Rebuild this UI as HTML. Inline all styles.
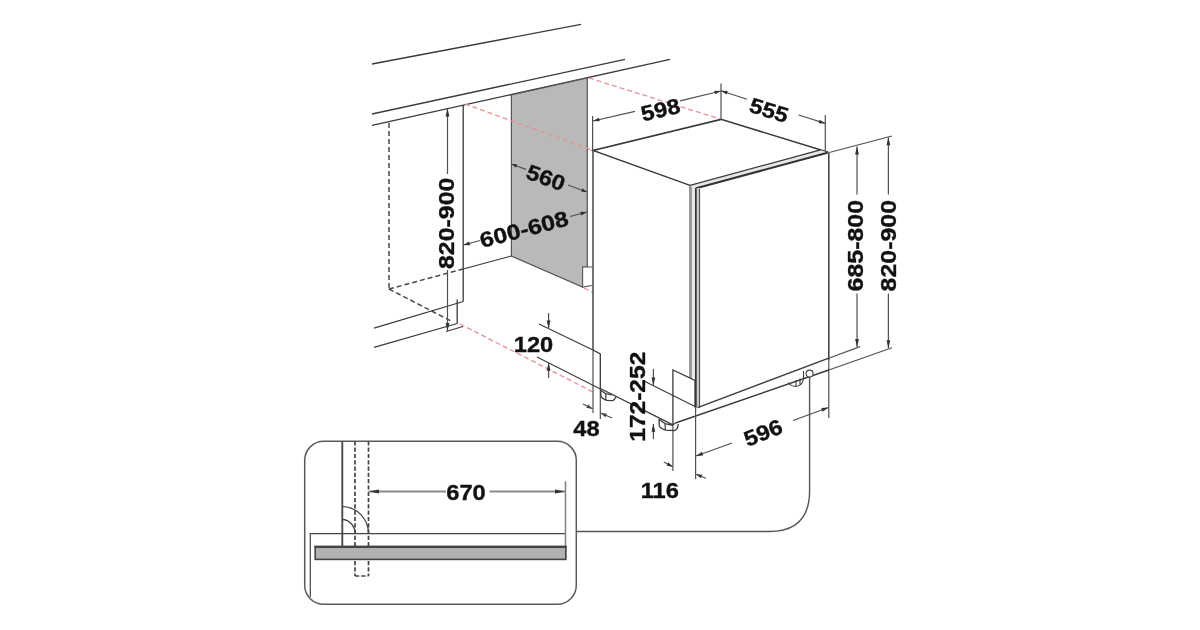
<!DOCTYPE html>
<html><head><meta charset="utf-8"><title>Installation dimensions</title>
<style>
html,body{margin:0;padding:0;background:#fff;}
body{width:1200px;height:630px;overflow:hidden;}
svg{display:block;filter:blur(0.45px);}
text{font-family:"Liberation Sans",sans-serif;font-weight:bold;}
</style></head><body>
<svg width="1200" height="630" viewBox="0 0 1200 630">
<rect width="1200" height="630" fill="#fff"/>
<line x1="372" y1="64" x2="581" y2="24.4" stroke="#3a3a3a" stroke-width="1.3" stroke-linecap="butt"/>
<line x1="372" y1="114" x2="625" y2="59.4" stroke="#3a3a3a" stroke-width="1.3" stroke-linecap="butt"/>
<line x1="372" y1="125.4" x2="670" y2="59.4" stroke="#3a3a3a" stroke-width="1.3" stroke-linecap="butt"/>
<polygon points="511.4,95 587.3,78 587.3,267 582.6,267 582.6,287 511.4,256" fill="#b9b9b9" stroke="#555" stroke-width="1.2" stroke-linejoin="miter"/>
<polyline points="592.5,267 582.6,267 582.6,287 592.5,285.5" fill="#fff" stroke="#555" stroke-width="1.1" stroke-linejoin="miter"/>
<line x1="389" y1="123" x2="389" y2="289" stroke="#4a4a4a" stroke-width="1.5" stroke-dasharray="5 3" stroke-linecap="butt"/>
<line x1="389" y1="289" x2="463" y2="269" stroke="#4a4a4a" stroke-width="1.5" stroke-dasharray="5 3" stroke-linecap="butt"/>
<line x1="389" y1="289" x2="452" y2="321.5" stroke="#4a4a4a" stroke-width="1.5" stroke-dasharray="5 3" stroke-linecap="butt"/>
<line x1="463.2" y1="105" x2="463.2" y2="301.5" stroke="#3a3a3a" stroke-width="1.3" stroke-linecap="butt"/>
<line x1="463.2" y1="269" x2="511.4" y2="256" stroke="#3a3a3a" stroke-width="1.2" stroke-linecap="butt"/>
<line x1="374" y1="328.2" x2="463.2" y2="301.5" stroke="#3a3a3a" stroke-width="1.3" stroke-linecap="butt"/>
<line x1="374" y1="347.3" x2="457.2" y2="323.5" stroke="#3a3a3a" stroke-width="1.3" stroke-linecap="butt"/>
<line x1="457.2" y1="299.5" x2="457.2" y2="323.5" stroke="#3a3a3a" stroke-width="1.3" stroke-linecap="butt"/>
<line x1="446" y1="331.5" x2="463" y2="326.5" stroke="#3a3a3a" stroke-width="1.1" stroke-linecap="butt"/>
<line x1="465" y1="104" x2="592" y2="150" stroke="#e88e98" stroke-width="1.3" stroke-dasharray="5 3" stroke-linecap="butt"/>
<line x1="589" y1="78" x2="720" y2="119" stroke="#e88e98" stroke-width="1.3" stroke-dasharray="5 3" stroke-linecap="butt"/>
<line x1="460" y1="324" x2="593" y2="392" stroke="#e88e98" stroke-width="1.3" stroke-dasharray="5 3" stroke-linecap="butt"/>
<line x1="584" y1="288" x2="593" y2="292.5" stroke="#e88e98" stroke-width="1.3" stroke-dasharray="5 3" stroke-linecap="butt"/>
<line x1="593" y1="150.5" x2="593" y2="350" stroke="#3a3a3a" stroke-width="1.4" stroke-linecap="butt"/>
<line x1="593" y1="350" x2="593" y2="413" stroke="#505050" stroke-width="1.2" stroke-linecap="butt"/>
<polyline points="593,350 600.3,354 600.3,389" fill="none" stroke="#3a3a3a" stroke-width="1.3" stroke-linejoin="miter"/>
<line x1="600.3" y1="389" x2="600.3" y2="419" stroke="#505050" stroke-width="1.2" stroke-linecap="butt"/>
<polyline points="690,185.4 593,150.5 721,119.4 828.3,152.2" fill="none" stroke="#3a3a3a" stroke-width="1.5" stroke-linejoin="miter"/>
<polygon points="690,185.4 820,150 827.5,152.3 695.5,188.3" fill="#e6e6e6" stroke="none" stroke-width="0" stroke-linejoin="miter"/>
<line x1="690" y1="185.4" x2="820.5" y2="149.8" stroke="#3a3a3a" stroke-width="1.3" stroke-linecap="butt"/>
<line x1="695.3" y1="188.5" x2="827.5" y2="152.8" stroke="#333" stroke-width="2.0" stroke-linecap="butt"/>
<rect x="690" y="186" width="5.5" height="192" fill="#ececec"/>
<rect x="695.5" y="188" width="4" height="219.6" fill="#c6c6c6"/>
<line x1="690" y1="185.6" x2="690" y2="378" stroke="#3a3a3a" stroke-width="1.0" stroke-linecap="butt"/>
<line x1="691.6" y1="187" x2="691.6" y2="378" stroke="#888" stroke-width="0.8" stroke-linecap="butt"/>
<line x1="695.8" y1="188" x2="695.8" y2="407.6" stroke="#333" stroke-width="1.7" stroke-linecap="butt"/>
<line x1="699.6" y1="189" x2="699.6" y2="407.6" stroke="#444" stroke-width="1.0" stroke-linecap="butt"/>
<line x1="828.8" y1="152.5" x2="828.8" y2="360" stroke="#3a3a3a" stroke-width="1.5" stroke-linecap="butt"/>
<line x1="828.8" y1="360" x2="828.8" y2="418" stroke="#505050" stroke-width="1.2" stroke-linecap="butt"/>
<line x1="697.6" y1="407.6" x2="828.8" y2="358.2" stroke="#3a3a3a" stroke-width="1.4" stroke-linecap="butt"/>
<line x1="828.8" y1="358.2" x2="860" y2="346.6" stroke="#505050" stroke-width="1.2" stroke-linecap="butt"/>
<line x1="675.4" y1="423" x2="828.8" y2="370" stroke="#3a3a3a" stroke-width="1.4" stroke-linecap="butt"/>
<line x1="828.8" y1="370" x2="892" y2="347.8" stroke="#505050" stroke-width="1.2" stroke-linecap="butt"/>
<line x1="600.3" y1="388.5" x2="673" y2="424.8" stroke="#3a3a3a" stroke-width="1.3" stroke-linecap="butt"/>
<polyline points="672.9,424.8 672.9,370 695,380.3 695,407.6" fill="none" stroke="#3a3a3a" stroke-width="1.3" stroke-linejoin="miter"/>
<line x1="672.9" y1="424.8" x2="672.9" y2="471" stroke="#505050" stroke-width="1.2" stroke-linecap="butt"/>
<line x1="695.6" y1="407.6" x2="695.6" y2="479" stroke="#505050" stroke-width="1.2" stroke-linecap="butt"/>
<line x1="673" y1="424.8" x2="675.4" y2="423" stroke="#3a3a3a" stroke-width="1.3" stroke-linecap="butt"/>
<path d="M659,419.3 L659.3,426 Q660.5,428.5 665.5,430.2 L674.5,430.7 Q678,429.5 678.2,424" fill="none" stroke="#3a3a3a" stroke-width="1.3" stroke-linejoin="round"/>
<path d="M659,419.3 L665,423.6 L673,425.4 M665,423.6 L665.3,430" fill="none" stroke="#3a3a3a" stroke-width="1.2"/>
<path d="M600.7,389.3 L600.9,396 Q602,399 607,400.4 L612.5,400.6 Q615,399.8 616,396.6" fill="none" stroke="#3a3a3a" stroke-width="1.3" stroke-linejoin="round"/>
<path d="M601,390.5 L605.7,393.6 L612,395 M605.7,393.6 L605.9,400" fill="none" stroke="#3a3a3a" stroke-width="1.2"/>
<path d="M788,382.5 Q792,387.5 798,386 Q803,384.5 803.5,378 M796,380 L796,386.5 M800,378.5 L800,385.5" fill="none" stroke="#444" stroke-width="1.1"/>
<line x1="803.5" y1="371" x2="803.5" y2="379" stroke="#3a3a3a" stroke-width="1.1" stroke-linecap="butt"/>
<circle cx="809.6" cy="373.6" r="3.5" fill="#fff" stroke="#444" stroke-width="1.1"/>
<path d="M809.6,377.2 L809.6,491 Q809.6,531.5 769,531.5 L576.3,531.5" fill="none" stroke="#555" stroke-width="1.4"/>
<line x1="592.6" y1="116" x2="592.6" y2="150" stroke="#505050" stroke-width="1.2" stroke-linecap="butt"/>
<line x1="593" y1="121" x2="635" y2="111.3" stroke="#505050" stroke-width="1.2" stroke-linecap="butt"/>
<line x1="680" y1="100.8" x2="721" y2="91" stroke="#505050" stroke-width="1.2" stroke-linecap="butt"/>
<polygon points="593.00,121.00 598.89,117.67 599.76,121.37" fill="#333"/>
<polygon points="721.00,91.00 715.11,94.33 714.24,90.63" fill="#333"/>
<line x1="721" y1="83.5" x2="721" y2="119.4" stroke="#505050" stroke-width="1.2" stroke-linecap="butt"/>
<line x1="721" y1="90.8" x2="747" y2="99.2" stroke="#505050" stroke-width="1.2" stroke-linecap="butt"/>
<line x1="798.6" y1="115" x2="825.3" y2="123.4" stroke="#505050" stroke-width="1.2" stroke-linecap="butt"/>
<polygon points="721.00,90.80 727.77,90.93 726.64,94.55" fill="#333"/>
<polygon points="825.30,123.40 818.53,123.27 819.66,119.65" fill="#333"/>
<line x1="825.3" y1="115" x2="825.3" y2="151.5" stroke="#505050" stroke-width="1.2" stroke-linecap="butt"/>
<line x1="511.4" y1="164" x2="526" y2="169.4" stroke="#505050" stroke-width="1.2" stroke-linecap="butt"/>
<line x1="568" y1="185" x2="587" y2="192" stroke="#505050" stroke-width="1.2" stroke-linecap="butt"/>
<polygon points="511.40,164.00 517.22,164.13 515.90,167.69" fill="#333"/>
<polygon points="587.00,192.00 581.18,191.87 582.50,188.31" fill="#333"/>
<line x1="463.3" y1="245" x2="480" y2="240.5" stroke="#505050" stroke-width="1.2" stroke-linecap="butt"/>
<line x1="570" y1="216.5" x2="587" y2="212" stroke="#505050" stroke-width="1.2" stroke-linecap="butt"/>
<polygon points="463.30,245.00 469.09,241.49 470.07,245.16" fill="#333"/>
<polygon points="587.00,212.00 581.21,215.51 580.23,211.84" fill="#333"/>
<line x1="447.5" y1="108.4" x2="447.5" y2="174" stroke="#505050" stroke-width="1.2" stroke-linecap="butt"/>
<line x1="447.5" y1="270" x2="447.5" y2="331" stroke="#505050" stroke-width="1.2" stroke-linecap="butt"/>
<polygon points="447.50,108.40 449.40,116.40 445.60,116.40" fill="#333"/>
<polygon points="447.50,331.00 445.60,323.00 449.40,323.00" fill="#333"/>
<line x1="539" y1="324" x2="593" y2="350" stroke="#3a3a3a" stroke-width="1.1" stroke-linecap="butt"/>
<line x1="537" y1="357" x2="600.3" y2="389" stroke="#3a3a3a" stroke-width="1.1" stroke-linecap="butt"/>
<line x1="548.6" y1="313" x2="548.6" y2="328.2" stroke="#505050" stroke-width="1.2" stroke-linecap="butt"/>
<polygon points="548.60,328.40 546.70,320.40 550.50,320.40" fill="#333"/>
<line x1="548.6" y1="378" x2="548.6" y2="363" stroke="#505050" stroke-width="1.2" stroke-linecap="butt"/>
<polygon points="548.60,362.80 550.50,370.80 546.70,370.80" fill="#333"/>
<polygon points="592.60,408.80 586.38,407.87 588.05,404.46" fill="#333"/>
<line x1="583" y1="404" x2="592.6" y2="408.8" stroke="#505050" stroke-width="1.2" stroke-linecap="butt"/>
<polygon points="600.60,413.00 606.86,413.67 605.33,417.15" fill="#333"/>
<line x1="612" y1="418" x2="600.6" y2="413" stroke="#505050" stroke-width="1.2" stroke-linecap="butt"/>
<line x1="644" y1="381" x2="696" y2="407" stroke="#3a3a3a" stroke-width="1.1" stroke-linecap="butt"/>
<line x1="653.4" y1="369" x2="653.4" y2="385.3" stroke="#505050" stroke-width="1.2" stroke-linecap="butt"/>
<polygon points="653.40,385.50 651.50,377.50 655.30,377.50" fill="#333"/>
<line x1="653.4" y1="439" x2="653.4" y2="424" stroke="#505050" stroke-width="1.2" stroke-linecap="butt"/>
<polygon points="653.40,423.80 655.30,431.80 651.50,431.80" fill="#333"/>
<line x1="663.8" y1="462" x2="672.6" y2="466.5" stroke="#505050" stroke-width="1.2" stroke-linecap="butt"/>
<polygon points="672.80,466.70 666.58,465.72 668.28,462.32" fill="#333"/>
<line x1="705.8" y1="478.3" x2="696.2" y2="474.2" stroke="#505050" stroke-width="1.2" stroke-linecap="butt"/>
<polygon points="696.00,474.10 702.25,474.80 700.71,478.27" fill="#333"/>
<line x1="696" y1="456" x2="732" y2="443" stroke="#505050" stroke-width="1.2" stroke-linecap="butt"/>
<line x1="793" y1="420.5" x2="828.5" y2="407.5" stroke="#505050" stroke-width="1.2" stroke-linecap="butt"/>
<polygon points="696.00,456.00 701.94,451.84 703.23,455.41" fill="#333"/>
<polygon points="828.50,407.50 822.56,411.66 821.27,408.09" fill="#333"/>
<line x1="829.3" y1="152.5" x2="892" y2="136" stroke="#505050" stroke-width="1.2" stroke-linecap="butt"/>
<line x1="857" y1="146.4" x2="857" y2="194.6" stroke="#505050" stroke-width="1.2" stroke-linecap="butt"/>
<line x1="857" y1="293.6" x2="857" y2="346.7" stroke="#505050" stroke-width="1.2" stroke-linecap="butt"/>
<polygon points="857.00,146.40 858.90,154.40 855.10,154.40" fill="#333"/>
<polygon points="857.00,346.90 855.10,338.90 858.90,338.90" fill="#333"/>
<line x1="888.4" y1="137.3" x2="888.4" y2="194.6" stroke="#505050" stroke-width="1.2" stroke-linecap="butt"/>
<line x1="888.4" y1="293.6" x2="888.4" y2="348" stroke="#505050" stroke-width="1.2" stroke-linecap="butt"/>
<polygon points="888.40,137.30 890.30,145.30 886.50,145.30" fill="#333"/>
<polygon points="888.40,348.20 886.50,340.20 890.30,340.20" fill="#333"/>
<rect x="304.7" y="441.3" width="271.6" height="163" rx="19" ry="19" fill="none" stroke="#5a5a5a" stroke-width="1.5"/>
<line x1="342.3" y1="441.3" x2="342.3" y2="546.5" stroke="#4a4a4a" stroke-width="1.9" stroke-linecap="butt"/>
<line x1="355" y1="441.3" x2="355" y2="576" stroke="#444" stroke-width="1.7" stroke-dasharray="4.2 2.1" stroke-linecap="butt"/>
<line x1="368.5" y1="441.3" x2="368.5" y2="576" stroke="#444" stroke-width="1.7" stroke-dasharray="4.2 2.1" stroke-linecap="butt"/>
<line x1="355" y1="576" x2="368.5" y2="576" stroke="#444" stroke-width="1.7" stroke-dasharray="4.2 2.1" stroke-linecap="butt"/>
<path d="M342.3,506.7 A26.5,26.8 0 0 1 368.5,533.5" fill="none" stroke="#444" stroke-width="1.3"/>
<path d="M342.3,519.5 A13,14 0 0 1 355,533.5" fill="none" stroke="#444" stroke-width="1.3"/>
<polyline points="310.3,597 310.3,533.6 566,533.6" fill="none" stroke="#444" stroke-width="1.2" stroke-linejoin="miter"/>
<line x1="565.5" y1="481.3" x2="565.5" y2="559.5" stroke="#858585" stroke-width="1.6" stroke-linecap="butt"/>
<rect x="315.2" y="546.6" width="250.6" height="12.8" fill="#b2b2b2" stroke="#444" stroke-width="1.6"/><line x1="314.4" y1="546.9" x2="566.6" y2="546.9" stroke="#444" stroke-width="2.2"/>
<line x1="368.7" y1="491.5" x2="446" y2="491.5" stroke="#8a8a8a" stroke-width="1.8" stroke-linecap="butt"/>
<line x1="489.5" y1="491.5" x2="565" y2="491.5" stroke="#8a8a8a" stroke-width="1.8" stroke-linecap="butt"/>
<polygon points="368.90,491.50 378.90,489.40 378.90,493.60" fill="#333"/>
<polygon points="565.00,491.50 555.00,493.60 555.00,489.40" fill="#333"/>
<text transform="translate(660.5,109.5) rotate(-13.5) skewX(0) scale(1.1,1)" font-size="21.5" text-anchor="middle" dy="0.358em" fill="#111" stroke="#111" stroke-width="0.35" stroke-linejoin="round">598</text>
<text transform="translate(769,110) rotate(17.4) skewX(0) scale(1.1,1)" font-size="21.5" text-anchor="middle" dy="0.358em" fill="#111" stroke="#111" stroke-width="0.35" stroke-linejoin="round">555</text>
<text transform="translate(546,177.5) rotate(20) skewX(0) scale(1.1,1)" font-size="21.5" text-anchor="middle" dy="0.358em" fill="#111" stroke="#111" stroke-width="0.35" stroke-linejoin="round">560</text>
<text transform="translate(524,229) rotate(-14.7) skewX(0) scale(1.15,1)" font-size="21.5" text-anchor="middle" dy="0.358em" fill="#111" stroke="#111" stroke-width="0.35" stroke-linejoin="round">600-608</text>
<text transform="translate(446.7,223.3) rotate(-90) skewX(0) scale(1.16,1)" font-size="21.5" text-anchor="middle" dy="0.358em" fill="#111" stroke="#111" stroke-width="0.35" stroke-linejoin="round">820-900</text>
<text transform="translate(533.5,344) rotate(0) skewX(0) scale(1.1,1)" font-size="21.5" text-anchor="middle" dy="0.358em" fill="#111" stroke="#111" stroke-width="0.35" stroke-linejoin="round">120</text>
<text transform="translate(586.5,428.5) rotate(0) skewX(0) scale(1.1,1)" font-size="21.5" text-anchor="middle" dy="0.358em" fill="#111" stroke="#111" stroke-width="0.35" stroke-linejoin="round">48</text>
<text transform="translate(637,396.7) rotate(-90) skewX(0) scale(1.14,1)" font-size="21.5" text-anchor="middle" dy="0.358em" fill="#111" stroke="#111" stroke-width="0.35" stroke-linejoin="round">172-252</text>
<text transform="translate(659.7,490.2) rotate(0) skewX(0) scale(1.1,1)" font-size="21.5" text-anchor="middle" dy="0.358em" fill="#111" stroke="#111" stroke-width="0.35" stroke-linejoin="round">116</text>
<text transform="translate(763,432.5) rotate(-21.5) skewX(0) scale(1.1,1)" font-size="21.5" text-anchor="middle" dy="0.358em" fill="#111" stroke="#111" stroke-width="0.35" stroke-linejoin="round">596</text>
<text transform="translate(466,492.3) rotate(0) skewX(0) scale(1.1,1)" font-size="21.5" text-anchor="middle" dy="0.358em" fill="#111" stroke="#111" stroke-width="0.35" stroke-linejoin="round">670</text>
<text transform="translate(855.7,245.7) rotate(-90) skewX(0) scale(1.16,1)" font-size="21.5" text-anchor="middle" dy="0.358em" fill="#111" stroke="#111" stroke-width="0.35" stroke-linejoin="round">685-800</text>
<text transform="translate(887.9,245.7) rotate(-90) skewX(0) scale(1.16,1)" font-size="21.5" text-anchor="middle" dy="0.358em" fill="#111" stroke="#111" stroke-width="0.35" stroke-linejoin="round">820-900</text>
</svg>
</body></html>
